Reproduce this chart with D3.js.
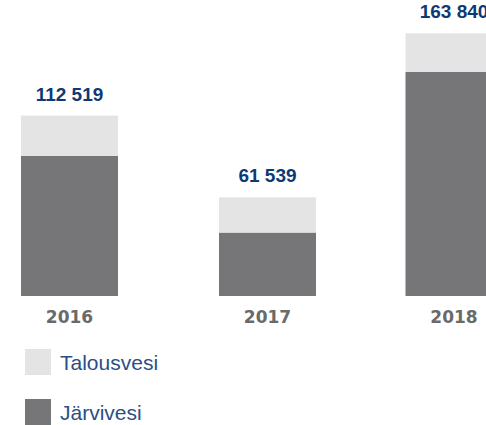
<!doctype html>
<html lang="fi">
<head>
    <meta charset="UTF-8">
    <script src="https://d3js.org/d3.v7.min.js"></script>
    <style>
        body { margin: 0; background: #fff; }
        .total { font: bold 19px "Liberation Sans", Arial, sans-serif; fill: #0d3a74; }
        .year { font: bold 17px "DejaVu Sans", sans-serif; fill: #6a6a6a; }
        .legend text { font: 21px "Liberation Sans", Arial, sans-serif; fill: #2b4f84; }
    </style>
</head>
<body>
<svg id="chart" width="486" height="425"></svg>
<script>
    var years = ["2016", "2017", "2018"];
    var jarvivesi = [87300, 39560, 139700];
    var talousvesi = [25219, 21979, 24140];
    var totals = ["112 519", "61 539", "163 840"];
    var seriesNames = ["Talousvesi", "Järvivesi"];
    var colors = {"Järvivesi": "#767678", "Talousvesi": "#e3e4e3"};

    var baseY = 296;
    var barW = 97;
    var svg = d3.select("#chart");

    var rows = years.map(function (y, i) {
        return {year: y, "Järvivesi": jarvivesi[i], "Talousvesi": talousvesi[i], label: totals[i]};
    });

    // bar centres (spacing in the original is not even)
    var x = d3.scaleOrdinal().domain(years).range([69.5, 267.5, 454]);
    var y = d3.scaleLinear().domain([0, 164000]).range([baseY, baseY - 263]);

    var stack = d3.stack().keys(["Järvivesi", "Talousvesi"]);
    var layers = stack(rows);

    svg.selectAll("g.layer")
        .data(layers)
        .enter()
        .append("g")
        .attr("class", "layer")
        .attr("fill", function (d) { return colors[d.key]; })
        .selectAll("rect")
        .data(function (d) { return d; })
        .enter()
        .append("rect")
        .attr("x", function (d) { return x(d.data.year) - barW / 2; })
        .attr("width", barW)
        .attr("y", function (d) { return y(d[1]); })
        .attr("height", function (d) { return y(d[0]) - y(d[1]); });

    // totals above bars
    svg.selectAll("text.total")
        .data(rows)
        .enter()
        .append("text")
        .attr("class", "total")
        .attr("text-anchor", "middle")
        .attr("x", function (d) { return x(d.year); })
        .attr("y", function (d) { return y(d["Järvivesi"] + d["Talousvesi"]) - 15; })
        .text(function (d) { return d.label; });

    // year labels
    svg.selectAll("text.year")
        .data(rows)
        .enter()
        .append("text")
        .attr("class", "year")
        .attr("text-anchor", "middle")
        .attr("x", function (d) { return x(d.year); })
        .attr("y", baseY + 27)
        .text(function (d) { return d.year; });

    // legend
    var legend = svg.append("g").attr("class", "legend");
    var item = legend.selectAll("g")
        .data(seriesNames)
        .enter()
        .append("g")
        .attr("transform", function (d, i) { return "translate(25," + (349 + i * 50) + ")"; });
    item.append("rect")
        .attr("width", 26)
        .attr("height", 26)
        .attr("fill", function (d) { return colors[d]; });
    item.append("text")
        .attr("x", 35)
        .attr("y", 21)
        .text(function (d) { return d; });
</script>
</body>
</html>
